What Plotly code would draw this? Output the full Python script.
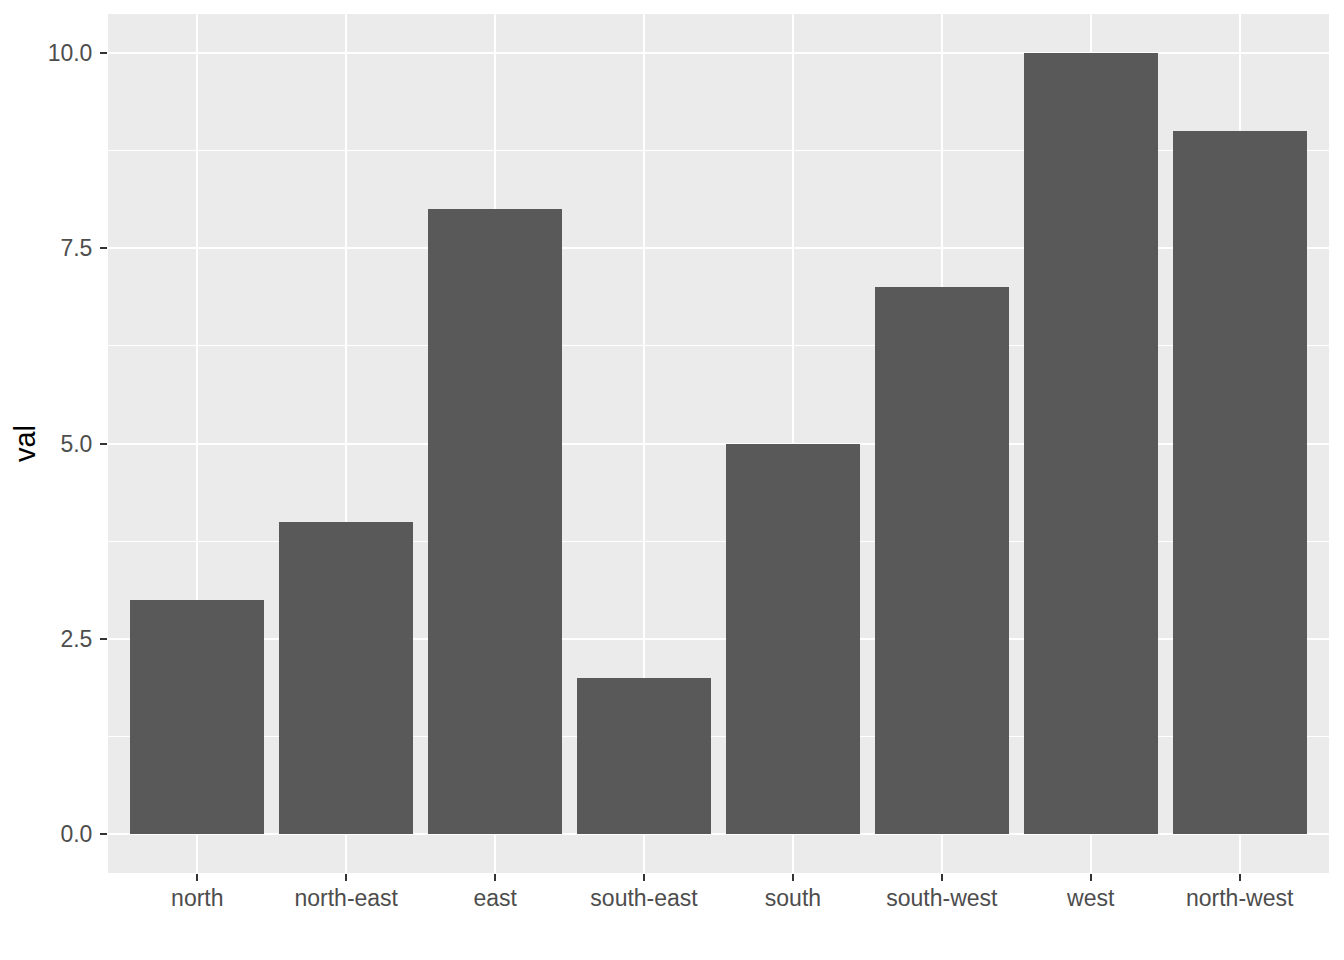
import plotly.graph_objects as go

categories = ["north", "north-east", "east", "south-east", "south", "south-west", "west", "north-west"]
values = [3, 4, 8, 2, 5, 7, 10, 9]
y_ticks = [0, 2.5, 5, 7.5, 10]

fig = go.Figure(go.Bar(
    x=categories, y=values, width=0.9,
    marker=dict(color="#595959", line=dict(width=0)),
))

fig.update_layout(
    width=1336, height=952,
    margin=dict(l=100, r=15, t=6, b=87, autoexpand=False),
    plot_bgcolor="#EBEBEB", paper_bgcolor="white",
    font=dict(family="Liberation Sans, Arial, sans-serif", color="#4D4D4D", size=23),
    showlegend=False,
    bargap=0,
)
fig.update_xaxes(
    type="category", range=[-0.6, 7.6], automargin=False,
    showgrid=True, gridcolor="white", gridwidth=2.1,
    ticks="outside", ticklen=7, tickwidth=2.1, tickcolor="#333333",
    zeroline=False, showline=False, ticklabelstandoff=-3,
    tickfont=dict(size=23, color="#4D4D4D"),
)
fig.update_yaxes(
    range=[-0.5, 10.5], automargin=False,
    tickvals=y_ticks, ticktext=[f"{v:.1f}" for v in y_ticks],
    showgrid=True, gridcolor="white", gridwidth=2.1,
    minor=dict(tickvals=[1.25, 3.75, 6.25, 8.75], showgrid=True, gridcolor="white", gridwidth=1.05),
    ticks="outside", ticklen=7, tickwidth=2.1, tickcolor="#333333",
    zeroline=False, showline=False, ticklabelstandoff=3,
    tickfont=dict(size=23, color="#4D4D4D"),
    title=dict(text="val", font=dict(size=29, color="black"), standoff=3),
)

fig.write_html("out.html")
